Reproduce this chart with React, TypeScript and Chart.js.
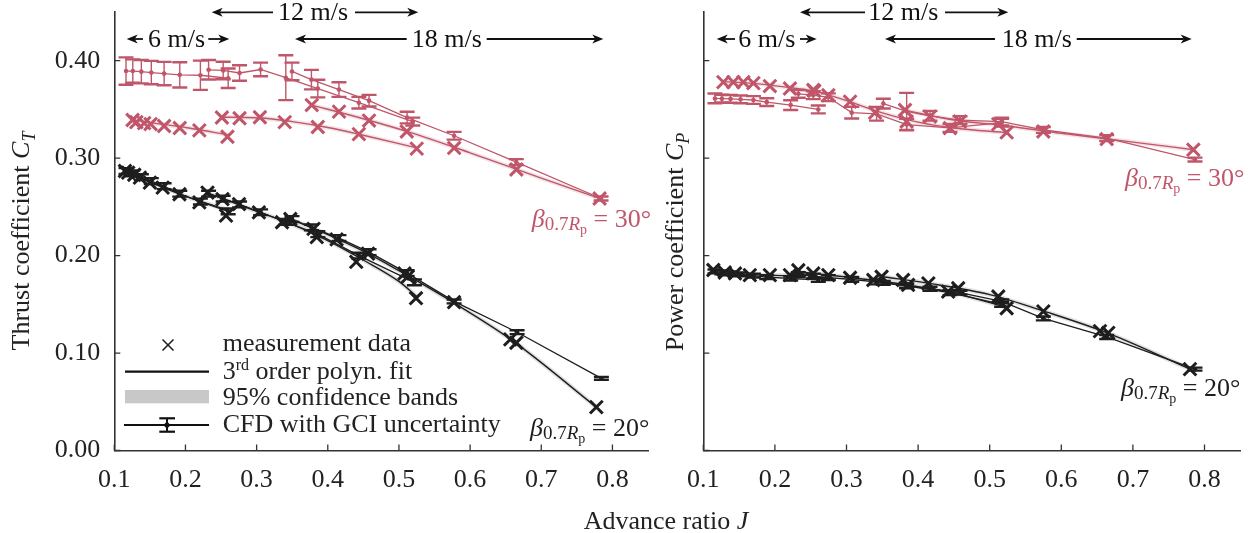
import React, { useEffect, useRef } from 'react';
import { Chart, registerables } from 'chart.js';
Chart.register(...registerables);

const RED = '#c0566a';
const RED_BAND = 'rgba(192,86,106,0.17)';
const BLACK = '#1e1e1e';
const BLACK_BAND = 'rgba(0,0,0,0.12)';
const AXIS = '#333333';
const TXT = '#222222';
const FONT = '"Liberation Serif", "Times New Roman", serif';

// ---------- Thrust coefficient (left) ----------
// beta = 30 deg, measurement
const J_m30_6 = [0.1257, 0.131, 0.142, 0.151, 0.170, 0.192, 0.2195, 0.259];
const CT_m30_6 = [0.3392, 0.337, 0.336, 0.335, 0.333, 0.331, 0.3285, 0.322];
const J_m30_12 = [0.2512, 0.276, 0.3046, 0.3395, 0.386, 0.4437, 0.525];
const CT_m30_12 = [0.3417, 0.341, 0.342, 0.337, 0.332, 0.3247, 0.3098];
const J_m30_18 = [0.3775, 0.4158, 0.458, 0.511, 0.5776, 0.665, 0.782];
const CT_m30_18 = [0.3545, 0.3478, 0.3386, 0.3274, 0.3105, 0.2884, 0.2586];
// beta = 30 deg, fit
const J_f30_6 = [0.125, 0.16, 0.2, 0.24, 0.262];
const CT_f30_6 = [0.3393, 0.3355, 0.3315, 0.3265, 0.3238];
const J_f30_12 = [0.25, 0.3, 0.35, 0.4, 0.45, 0.525];
const CT_f30_12 = [0.342, 0.3415, 0.3375, 0.3315, 0.3235, 0.3105];
const J_f30_18 = [0.375, 0.45, 0.52, 0.6, 0.7, 0.785];
const CT_f30_18 = [0.355, 0.3405, 0.3255, 0.3055, 0.2795, 0.258];
// beta = 30 deg, CFD
const J_c30_6 = [0.1165, 0.126, 0.138, 0.152, 0.170, 0.192, 0.221, 0.260];
const CT_c30_6 = [0.3894, 0.3894, 0.3888, 0.3878, 0.3868, 0.3855, 0.3851, 0.382];
const E_c30_6 = [0.014, 0.012, 0.012, 0.012, 0.012, 0.013, 0.015, 0.01];
const J_c30_12 = [0.2325, 0.253, 0.276, 0.3056, 0.341, 0.386, 0.4437, 0.5194];
const CT_c30_12 = [0.3907, 0.39, 0.3874, 0.391, 0.3826, 0.3714, 0.3569, 0.3376];
const E_c30_12 = [0.01, 0.009, 0.008, 0.007, 0.023, 0.009, 0.006, 0.004];
const J_c30_18 = [0.3497, 0.377, 0.4157, 0.458, 0.5115, 0.5775, 0.6649, 0.784];
const CT_c30_18 = [0.389, 0.3806, 0.3704, 0.359, 0.3417, 0.323, 0.296, 0.2586];
const E_c30_18 = [0.009, 0.01, 0.0075, 0.006, 0.006, 0.004, 0.003, 0.002];
// beta = 20 deg, measurement
const J_m20_6 = [0.115, 0.1195, 0.128, 0.136, 0.150, 0.168, 0.1916, 0.2195, 0.257];
const CT_m20_6 = [0.2868, 0.2851, 0.283, 0.28, 0.2749, 0.2698, 0.263, 0.2546, 0.241];
const J_m20_12 = [0.231, 0.252, 0.2753, 0.3032, 0.3357, 0.3845, 0.4124, 0.44, 0.5078, 0.524];
const CT_m20_12 = [0.2647, 0.258, 0.2529, 0.2444, 0.2342, 0.219, 0.2166, 0.1936, 0.1817, 0.1563];
const J_m20_18 = [0.3474, 0.38, 0.4566, 0.5124, 0.5775, 0.6565, 0.665, 0.7774];
const CT_m20_18 = [0.2376, 0.2274, 0.202, 0.1784, 0.1522, 0.114, 0.1106, 0.0445];
// beta = 20 deg, fit
const J_f20_6 = [0.115, 0.15, 0.2, 0.26];
const CT_f20_6 = [0.2865, 0.2755, 0.261, 0.2465];
const J_f20_12 = [0.23, 0.3, 0.35, 0.4, 0.45, 0.5, 0.525];
const CT_f20_12 = [0.2645, 0.2455, 0.232, 0.2155, 0.1955, 0.1735, 0.158];
const J_f20_18 = [0.3474, 0.4, 0.45, 0.5, 0.575, 0.66, 0.7774];
const CT_f20_18 = [0.2376, 0.2215, 0.2045, 0.1845, 0.1525, 0.1125, 0.0445];
// beta = 20 deg, CFD
const J_c20_6 = [0.1165, 0.126, 0.138, 0.152, 0.170, 0.192, 0.221, 0.260];
const CT_c20_6 = [0.2868, 0.2843, 0.2805, 0.2765, 0.2712, 0.2635, 0.2555, 0.2455];
const E_c20_6 = [0.003, 0.003, 0.003, 0.003, 0.003, 0.003, 0.003, 0.003];
const J_c20_12 = [0.2325, 0.253, 0.276, 0.3056, 0.341, 0.386, 0.4437, 0.5218];
const CT_c20_12 = [0.2635, 0.2585, 0.2525, 0.2445, 0.2345, 0.222, 0.2, 0.1726];
const E_c20_12 = [0.003, 0.003, 0.003, 0.003, 0.003, 0.003, 0.003, 0.003];
const J_c20_18 = [0.3497, 0.377, 0.4157, 0.458, 0.5115, 0.5775, 0.666, 0.7845];
const CT_c20_18 = [0.2375, 0.229, 0.218, 0.2035, 0.182, 0.153, 0.1214, 0.074];
const E_c20_18 = [0.003, 0.003, 0.003, 0.003, 0.003, 0.002, 0.002, 0.0015];

// ---------- Power coefficient (right) ----------
const J_pm30_6 = [0.128, 0.142, 0.156, 0.17, 0.193, 0.221, 0.255];
const CP_pm30_6 = [0.378, 0.378, 0.378, 0.377, 0.374, 0.3715, 0.369];
const J_pm30_12 = [0.2536, 0.2746, 0.305, 0.34, 0.384, 0.4445, 0.5237];
const CP_pm30_12 = [0.37, 0.3646, 0.358, 0.3467, 0.3376, 0.3308, 0.3264];
const J_pm30_18 = [0.3817, 0.4166, 0.4585, 0.512, 0.5749, 0.6634, 0.7844];
const CP_pm30_18 = [0.3494, 0.3427, 0.3376, 0.3349, 0.3274, 0.3196, 0.3087];
const J_pf30_6 = [0.125, 0.17, 0.22, 0.255];
const CP_pf30_6 = [0.3785, 0.3768, 0.3725, 0.369];
const J_pf30_12 = [0.25, 0.3, 0.35, 0.4, 0.45, 0.525];
const CP_pf30_12 = [0.3705, 0.359, 0.3465, 0.337, 0.331, 0.3262];
const J_pf30_18 = [0.38, 0.45, 0.52, 0.6, 0.7, 0.785];
const CP_pf30_18 = [0.3495, 0.3392, 0.3335, 0.3255, 0.3165, 0.3087];
const J_pc30_6 = [0.1163, 0.126, 0.138, 0.152, 0.17, 0.1886, 0.222, 0.2606];
const CP_pc30_6 = [0.3613, 0.3611, 0.3608, 0.3603, 0.3597, 0.3575, 0.3545, 0.35];
const E_pc30_6 = [0.005, 0.004, 0.004, 0.004, 0.004, 0.004, 0.005, 0.004];
const J_pc30_12 = [0.2327, 0.2536, 0.2746, 0.3073, 0.342, 0.384, 0.4445, 0.5167];
const CP_pc30_12 = [0.366, 0.3646, 0.3625, 0.3467, 0.3455, 0.3345, 0.331, 0.3365];
const E_pc30_12 = [0.004, 0.004, 0.004, 0.006, 0.007, 0.006, 0.004, 0.004];
const J_pc30_18 = [0.3514, 0.384, 0.4166, 0.4585, 0.5167, 0.5749, 0.6634, 0.7867];
const CP_pc30_18 = [0.356, 0.348, 0.3435, 0.339, 0.3376, 0.329, 0.3206, 0.2986];
const E_pc30_18 = [0.005, 0.019, 0.005, 0.004, 0.004, 0.003, 0.003, 0.002];

const J_pm20_6 = [0.114, 0.13, 0.1443, 0.165, 0.193, 0.221, 0.2536];
const CP_pm20_6 = [0.1852, 0.1827, 0.1817, 0.18, 0.18, 0.18, 0.1817];
const J_pm20_12 = [0.2327, 0.2746, 0.305, 0.3374, 0.386, 0.442, 0.5237];
const CP_pm20_12 = [0.185, 0.18, 0.1773, 0.175, 0.17, 0.163, 0.146];
const J_pm20_18 = [0.349, 0.379, 0.4143, 0.456, 0.512, 0.5749, 0.654, 0.6656, 0.7797];
const CP_pm20_18 = [0.1783, 0.175, 0.1715, 0.1665, 0.158, 0.1428, 0.1225, 0.1207, 0.0835];
const J_pf20_6 = [0.114, 0.16, 0.21, 0.255];
const CP_pf20_6 = [0.1852, 0.181, 0.1795, 0.1805];
const J_pf20_12 = [0.232, 0.3, 0.38, 0.45, 0.525];
const CP_pf20_12 = [0.1835, 0.178, 0.1705, 0.1615, 0.1465];
const J_pf20_18 = [0.349, 0.42, 0.5, 0.58, 0.665, 0.78];
const CP_pf20_18 = [0.1785, 0.171, 0.16, 0.142, 0.1205, 0.0835];
const J_pc20_6 = [0.1163, 0.126, 0.138, 0.152, 0.17, 0.1886, 0.222, 0.2606];
const CP_pc20_6 = [0.1838, 0.1828, 0.1818, 0.1808, 0.1795, 0.178, 0.1765, 0.175];
const E_pc20_6 = [0.002, 0.002, 0.002, 0.002, 0.002, 0.002, 0.002, 0.002];
const J_pc20_12 = [0.2327, 0.2536, 0.2746, 0.3073, 0.342, 0.384, 0.4445, 0.5167];
const CP_pc20_12 = [0.1805, 0.179, 0.1775, 0.1755, 0.173, 0.169, 0.162, 0.15];
const E_pc20_12 = [0.0025, 0.0025, 0.0025, 0.0025, 0.0025, 0.0025, 0.0025, 0.0025];
const J_pc20_18 = [0.3514, 0.384, 0.4166, 0.4585, 0.5167, 0.5749, 0.6634, 0.7867];
const CP_pc20_18 = [0.172, 0.169, 0.166, 0.162, 0.153, 0.1355, 0.1165, 0.0835];
const E_pc20_18 = [0.002, 0.002, 0.002, 0.002, 0.002, 0.002, 0.002, 0.0015];

// axis ticks
const X_MIN = 0.1;
const X_MAX = 0.85;
const X_STEP = 0.1;
const Y_MIN = 0;
const Y_MAX = 0.45;
const Y_STEP = 0.1;

const zip = (xs: number[], ys: number[]) => xs.map((x, i) => ({ x, y: ys[i] }));

const meas = (j: number[], v: number[], c: string) => ({
  data: zip(j, v), showLine: false, pointStyle: 'crossRot', pointRadius: 9, pointHoverRadius: 9,
  pointBorderWidth: 3, borderColor: c, backgroundColor: c, pointBorderColor: c,
});
const fit = (j: number[], v: number[], c: string) => ({
  data: zip(j, v), borderColor: c, borderWidth: 1.4, pointRadius: 0, cubicInterpolationMode: 'monotone', fill: false,
});
const band = (j: number[], v: number[], c: string) => ({
  data: zip(j, v), borderColor: c, borderWidth: 4.5, pointRadius: 0, cubicInterpolationMode: 'monotone', fill: false,
  borderCapStyle: 'butt',
});
const cfd = (j: number[], v: number[], e: number[], c: string) => ({
  data: zip(j, v), borderColor: c, backgroundColor: c, borderWidth: 1.3, pointRadius: 2.3, pointStyle: 'circle',
  pointBackgroundColor: c, pointBorderWidth: 0, errorBars: e,
});

const leftDatasets = () => [
  meas(J_m30_6, CT_m30_6, RED), meas(J_m30_12, CT_m30_12, RED), meas(J_m30_18, CT_m30_18, RED),
  meas(J_m20_6, CT_m20_6, BLACK), meas(J_m20_12, CT_m20_12, BLACK), meas(J_m20_18, CT_m20_18, BLACK),
  cfd(J_c30_6, CT_c30_6, E_c30_6, RED), cfd(J_c30_12, CT_c30_12, E_c30_12, RED), cfd(J_c30_18, CT_c30_18, E_c30_18, RED),
  cfd(J_c20_6, CT_c20_6, E_c20_6, BLACK), cfd(J_c20_12, CT_c20_12, E_c20_12, BLACK), cfd(J_c20_18, CT_c20_18, E_c20_18, BLACK),
  fit(J_f30_6, CT_f30_6, RED), fit(J_f30_12, CT_f30_12, RED), fit(J_f30_18, CT_f30_18, RED),
  fit(J_f20_6, CT_f20_6, BLACK), fit(J_f20_12, CT_f20_12, BLACK), fit(J_f20_18, CT_f20_18, BLACK),
  band(J_f30_6, CT_f30_6, RED_BAND), band(J_f30_12, CT_f30_12, RED_BAND), band(J_f30_18, CT_f30_18, RED_BAND),
  band(J_f20_6, CT_f20_6, BLACK_BAND), band(J_f20_12, CT_f20_12, BLACK_BAND), band(J_f20_18, CT_f20_18, BLACK_BAND),
];

const rightDatasets = () => [
  meas(J_pm30_6, CP_pm30_6, RED), meas(J_pm30_12, CP_pm30_12, RED), meas(J_pm30_18, CP_pm30_18, RED),
  meas(J_pm20_6, CP_pm20_6, BLACK), meas(J_pm20_12, CP_pm20_12, BLACK), meas(J_pm20_18, CP_pm20_18, BLACK),
  cfd(J_pc30_6, CP_pc30_6, E_pc30_6, RED), cfd(J_pc30_12, CP_pc30_12, E_pc30_12, RED), cfd(J_pc30_18, CP_pc30_18, E_pc30_18, RED),
  cfd(J_pc20_6, CP_pc20_6, E_pc20_6, BLACK), cfd(J_pc20_12, CP_pc20_12, E_pc20_12, BLACK), cfd(J_pc20_18, CP_pc20_18, E_pc20_18, BLACK),
  fit(J_pf30_6, CP_pf30_6, RED), fit(J_pf30_12, CP_pf30_12, RED), fit(J_pf30_18, CP_pf30_18, RED),
  fit(J_pf20_6, CP_pf20_6, BLACK), fit(J_pf20_12, CP_pf20_12, BLACK), fit(J_pf20_18, CP_pf20_18, BLACK),
  band(J_pf30_6, CP_pf30_6, RED_BAND), band(J_pf30_12, CP_pf30_12, RED_BAND), band(J_pf30_18, CP_pf30_18, RED_BAND),
  band(J_pf20_6, CP_pf20_6, BLACK_BAND), band(J_pf20_12, CP_pf20_12, BLACK_BAND), band(J_pf20_18, CP_pf20_18, BLACK_BAND),
];

const errorBarPlugin = {
  id: 'errbars',
  afterDatasetsDraw(chart: any) {
    const { ctx } = chart;
    const xs = chart.scales.x;
    const ys = chart.scales.y;
    chart.data.datasets.forEach((ds: any) => {
      if (!ds.errorBars) return;
      ctx.save();
      ctx.strokeStyle = ds.borderColor;
      ds.data.forEach((p: any, i: number) => {
        const e = ds.errorBars[i];
        const px = xs.getPixelForValue(p.x);
        const t = ys.getPixelForValue(p.y + e);
        const b = ys.getPixelForValue(p.y - e);
        ctx.lineWidth = 1.4;
        ctx.beginPath();
        ctx.moveTo(px, t);
        ctx.lineTo(px, b);
        ctx.stroke();
        ctx.lineWidth = 2.4;
        ctx.beginPath();
        ctx.moveTo(px - 7.5, t);
        ctx.lineTo(px + 7.5, t);
        ctx.moveTo(px - 7.5, b);
        ctx.lineTo(px + 7.5, b);
        ctx.stroke();
      });
      ctx.restore();
    });
  },
};

const inwardTicks = {
  id: 'inticks',
  afterDraw(chart: any) {
    const { ctx, chartArea } = chart;
    const xs = chart.scales.x;
    const ys = chart.scales.y;
    ctx.save();
    ctx.strokeStyle = AXIS;
    ctx.lineWidth = 1.3;
    ctx.beginPath();
    xs.ticks.forEach((t: any) => {
      const px = xs.getPixelForValue(t.value);
      ctx.moveTo(px, chartArea.bottom);
      ctx.lineTo(px, chartArea.bottom - 6);
    });
    ys.ticks.forEach((t: any) => {
      const py = ys.getPixelForValue(t.value);
      ctx.moveTo(chartArea.left, py);
      ctx.lineTo(chartArea.left + 6, py);
    });
    ctx.stroke();
    ctx.restore();
  },
};

function makeConfig(datasets: any[], yWidth: number, padRight: number, showYLabels: boolean) {
  return {
    type: 'line',
    data: { datasets },
    plugins: [errorBarPlugin, inwardTicks],
    options: {
      responsive: false,
      animation: false,
      events: [],
      layout: { padding: { left: 0, right: padRight, top: 8, bottom: 0 } },
      plugins: { legend: { display: false }, tooltip: { enabled: false } },
      scales: {
        x: {
          type: 'linear', min: X_MIN, max: X_MAX,
          border: { display: true, color: AXIS, width: 1.6 },
          grid: { display: false, drawTicks: false },
          ticks: {
            stepSize: X_STEP, includeBounds: false, autoSkip: false, maxRotation: 0, padding: 14,
            color: TXT, font: { family: FONT, size: 26 },
            callback: (v: any) => Number(v).toFixed(1),
          },
          afterFit: (s: any) => { s.height = 82.5; s.paddingLeft = 0; s.paddingRight = 0; },
        },
        y: {
          type: 'linear', min: Y_MIN, max: Y_MAX,
          border: { display: true, color: AXIS, width: 1.6 },
          grid: { display: false, drawTicks: false },
          ticks: {
            display: showYLabels,
            stepSize: Y_STEP, includeBounds: false, autoSkip: false, padding: 14,
            color: TXT, font: { family: FONT, size: 26 },
            callback: (v: any) => Number(v).toFixed(2),
          },
          afterFit: (s: any) => { s.width = yWidth; s.paddingTop = 0; s.paddingBottom = 0; },
        },
      },
    },
  };
}

function Plot(props: { left: number; width: number; datasets: () => any[]; yWidth: number; padRight: number; showYLabels: boolean }) {
  const ref = useRef<HTMLCanvasElement>(null);
  useEffect(() => {
    const chart = new Chart(ref.current as HTMLCanvasElement, makeConfig(props.datasets(), props.yWidth, props.padRight, props.showYLabels) as any);
    return () => chart.destroy();
  }, []);
  return (
    <canvas ref={ref} width={props.width} height={533}
      style={{ position: 'absolute', left: props.left, top: 0, width: props.width, height: 533, display: 'block' }} />
  );
}

const textBase: React.CSSProperties = {
  position: 'absolute', fontSize: 26, lineHeight: '26px', whiteSpace: 'nowrap', color: TXT, fontFamily: FONT,
};

function Beta(p: { left: number; baseline: number; color: string; deg: number }) {
  return (
    <div style={{ ...textBase, left: p.left, top: p.baseline - 22, color: p.color }}>
      <i>β</i>
      <span style={{ fontSize: 19, position: 'relative', top: 3 }}>
        0.7<i>R</i><span style={{ fontSize: 14, position: 'relative', top: 4 }}>p</span>
      </span>
      {' = ' + p.deg + '°'}
    </div>
  );
}

function Arrow(p: { from: number; tip: number; y: number }) {
  const d = p.tip > p.from ? 1 : -1;
  const t = p.tip;
  const pts = `${t},${p.y} ${t - 11 * d},${p.y - 4.5} ${t - 8 * d},${p.y} ${t - 11 * d},${p.y + 4.5}`;
  return (
    <g>
      <line x1={p.from} y1={p.y} x2={t - 8 * d} y2={p.y} stroke="#111" strokeWidth={1.8} />
      <polygon points={pts} fill="#111" />
    </g>
  );
}

function SpeedLabel(p: { left: number; cy: number; text: string }) {
  return <div style={{ ...textBase, left: p.left, top: p.cy - 13, color: '#111' }}>{p.text}</div>;
}

export default function App() {
  return (
    <div style={{ position: 'fixed', left: 0, top: 0, width: 1257, height: 533, background: '#fff', overflow: 'hidden', fontFamily: FONT }}>
      <Plot left={0} width={660} datasets={leftDatasets} yWidth={114.3} padRight={8.7} showYLabels={true} />
      <Plot left={660} width={597} datasets={rightDatasets} yWidth={43.3} padRight={16.7} showYLabels={false} />

      <svg width={1257} height={533} style={{ position: 'absolute', left: 0, top: 0, pointerEvents: 'none' }}>
        {/* left plot speed ranges */}
        <Arrow from={143} tip={126.7} y={39} />
        <Arrow from={208.3} tip={229.3} y={39} />
        <Arrow from={273} tip={211.7} y={12.3} />
        <Arrow from={355} tip={418.3} y={12.3} />
        <Arrow from={406.7} tip={295} y={39} />
        <Arrow from={486.7} tip={603.3} y={39} />
        {/* right plot speed ranges */}
        <Arrow from={735} tip={716.7} y={39} />
        <Arrow from={800} tip={816.7} y={39} />
        <Arrow from={865} tip={800} y={12.3} />
        <Arrow from={945} tip={1008.3} y={12.3} />
        <Arrow from={995} tip={885} y={39} />
        <Arrow from={1076.7} tip={1191.7} y={39} />
        {/* legend symbols */}
        <g stroke="#222" strokeWidth={1.6}>
          <line x1={162.5} y1={339.5} x2={173.5} y2={350.5} />
          <line x1={162.5} y1={350.5} x2={173.5} y2={339.5} />
        </g>
        <line x1={125} y1={371.7} x2={209} y2={371.7} stroke="#111" strokeWidth={2.2} />
        <rect x={125} y={390} width={84} height={13.3} fill="#c8c8c8" />
        <line x1={124} y1={425} x2={209} y2={425} stroke="#111" strokeWidth={2.2} />
        <line x1={167} y1={418.3} x2={167} y2={431.7} stroke="#111" strokeWidth={2} />
        <line x1={159.3} y1={418.3} x2={175} y2={418.3} stroke="#111" strokeWidth={2.2} />
        <line x1={159.3} y1={431.7} x2={175} y2={431.7} stroke="#111" strokeWidth={2.2} />
        <circle cx={167} cy={425} r={2.6} fill="#111" />
      </svg>

      <SpeedLabel left={148} cy={38.5} text="6 m/s" />
      <SpeedLabel left={278} cy={12} text="12 m/s" />
      <SpeedLabel left={411.7} cy={38.5} text="18 m/s" />
      <SpeedLabel left={738.3} cy={38.5} text="6 m/s" />
      <SpeedLabel left={868.3} cy={12} text="12 m/s" />
      <SpeedLabel left={1001.7} cy={38.5} text="18 m/s" />

      <div style={{ ...textBase, left: 222.7, top: 330.2 }}>measurement data</div>
      <div style={{ ...textBase, left: 222.7, top: 357.5 }}>
        3<span style={{ fontSize: 16, position: 'relative', top: -9 }}>rd</span> order polyn. fit
      </div>
      <div style={{ ...textBase, left: 222.7, top: 384.2 }}>95% confidence bands</div>
      <div style={{ ...textBase, left: 222.7, top: 410.9 }}>CFD with GCI uncertainty</div>

      <Beta left={531.7} baseline={228} color={RED} deg={30} />
      <Beta left={530} baseline={437} color={BLACK} deg={20} />
      <Beta left={1125} baseline={187} color={RED} deg={30} />
      <Beta left={1121} baseline={397} color={BLACK} deg={20} />

      <div style={{ ...textBase, left: 22 - 160, top: 240 - 15, width: 320, lineHeight: '30px', textAlign: 'center', transform: 'rotate(-90deg)' }}>
        Thrust coefficient <i>C</i><span style={{ fontSize: 18, fontStyle: 'italic', position: 'relative', top: 6 }}>T</span>
      </div>
      <div style={{ ...textBase, left: 676 - 160, top: 241 - 15, width: 320, lineHeight: '30px', textAlign: 'center', transform: 'rotate(-90deg)' }}>
        Power coefficient <i>C</i><span style={{ fontSize: 18, fontStyle: 'italic', position: 'relative', top: 6 }}>P</span>
      </div>
      <div style={{ ...textBase, left: 666 - 150, top: 508, width: 300, textAlign: 'center' }}>
        Advance ratio <i>J</i>
      </div>
    </div>
  );
}
